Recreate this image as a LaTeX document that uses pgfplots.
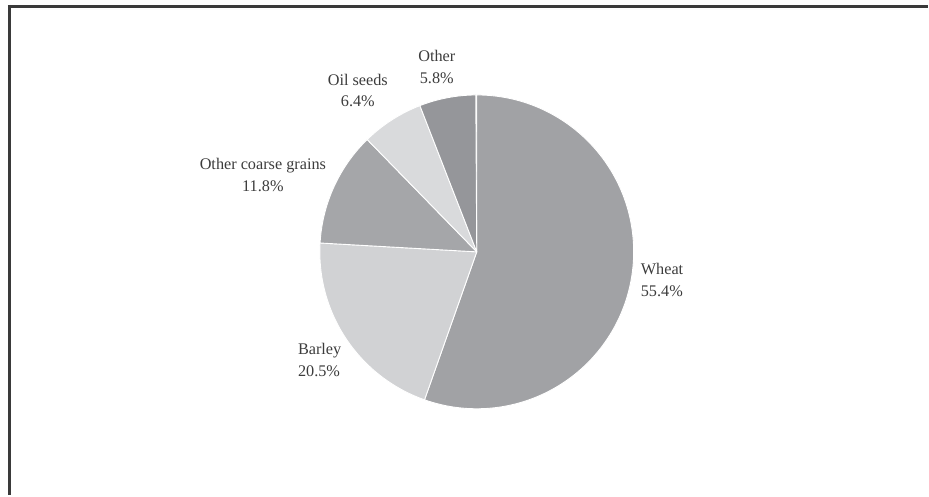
\documentclass[border=0pt]{standalone}
\usepackage{pgfplots}
\usepackage{pgfplotstable}
\pgfplotsset{compat=1.18}
\usepackage{fontspec}
\setmainfont{Liberation Serif}
\definecolor{cWheat}{HTML}{A1A2A5}
\definecolor{cBarley}{HTML}{D1D2D4}
\definecolor{cOCG}{HTML}{A5A6A9}
\definecolor{cOil}{HTML}{D9DADC}
\definecolor{cOther}{HTML}{95969A}
\definecolor{txt}{HTML}{3C3C3C}
\definecolor{frame}{HTML}{3A3A3A}
\tikzset{lbl/.style={font=\fontsize{16.3}{22}\selectfont, text=txt, align=center, inner sep=0pt}}
\pgfplotstableread[col sep=comma]{
label,value,col
Wheat,55.4,cWheat
Barley,20.5,cBarley
Other coarse grains,11.8,cOCG
Oil seeds,6.4,cOil
Other,5.8,cOther
}\piedata
\begin{document}
\begin{tikzpicture}
\begin{axis}[
  scale only axis, width=929bp, height=495bp,
  xmin=0, xmax=929, ymin=0, ymax=495,
  enlargelimits=false, hide axis, clip=false
]
\path (axis cs:0,0) rectangle (axis cs:929,495);
\def\angstart{90}
\pgfplotsforeachungrouped \i in {0,...,4}{%
  \pgfplotstablegetelem{\i}{value}\of\piedata \let\val\pgfplotsretval
  \pgfplotstablegetelem{\i}{col}\of\piedata \let\cc\pgfplotsretval
  \pgfmathsetmacro\angend{\angstart-3.6*\val}%
  \pgfmathsetmacro\sx{477+157*cos(\angstart)}%
  \pgfmathsetmacro\sy{243+157*sin(\angstart)}%
  \edef\temp{\noexpand\fill[fill=\cc, draw=white, line width=0.9pt, line join=round] (axis cs:477,243) -- (axis cs:\sx,\sy) arc[start angle=\angstart, end angle=\angend, radius=157bp] -- cycle;}%
  \temp
  \global\let\angstart\angend
}
\node[lbl] at (axis cs:437,428) {Other\\5.8\%};
\node[lbl] at (axis cs:358,404.5) {Oil seeds\\6.4\%};
\node[lbl] at (axis cs:263,320) {Other coarse grains\\11.8\%};
\node[lbl, anchor=west, align=left] at (axis cs:298,135) {Barley\\20.5\%};
\node[lbl, anchor=west, align=left] at (axis cs:641,215) {Wheat\\55.4\%};
\draw[frame, line width=3bp, line cap=butt] (axis cs:8,488.5) -- (axis cs:928,488.5);
\draw[frame, line width=3bp, line cap=butt] (axis cs:9.5,490) -- (axis cs:9.5,0);
\end{axis}
\end{tikzpicture}
\end{document}
